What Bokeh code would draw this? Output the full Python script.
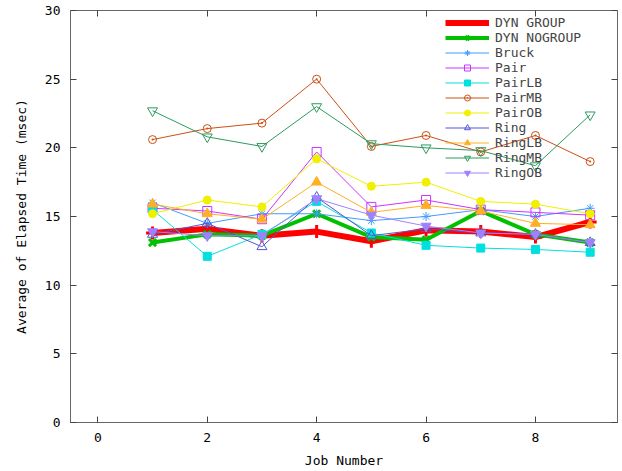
from bokeh.plotting import figure
from bokeh.models import FixedTicker, LinearAxis, Range1d, Legend, LegendItem
from bokeh.embed import file_html
from bokeh.resources import INLINE

jobs = [1, 2, 3, 4, 5, 6, 7, 8, 9]
x_ticks = [0, 2, 4, 6, 8]
y_ticks = [0, 5, 10, 15, 20, 25, 30]

dyn_group   = [13.8, 14.1, 13.6, 13.9, 13.2, 14.0, 13.9, 13.5, 14.6]
dyn_nogroup = [13.1, 13.7, 13.6, 15.2, 13.5, 13.3, 15.4, 13.7, 13.1]
bruck       = [16.0, 14.5, 15.2, 15.2, 14.7, 15.0, 15.5, 15.0, 15.6]
pair        = [15.6, 15.4, 14.8, 19.7, 15.7, 16.2, 15.5, 15.3, 15.1]
pair_lb     = [15.5, 12.1, 13.7, 16.1, 13.8, 12.9, 12.7, 12.6, 12.4]
pair_mb     = [20.6, 21.4, 21.8, 25.0, 20.1, 20.9, 19.7, 20.9, 19.0]
pair_ob     = [15.2, 16.2, 15.7, 19.2, 17.2, 17.5, 16.1, 15.9, 15.2]
ring        = [13.7, 14.5, 12.8, 16.4, 13.6, 14.1, 13.8, 13.7, 13.1]
ring_lb     = [15.9, 15.2, 14.8, 17.5, 15.3, 15.8, 15.4, 14.5, 14.4]
ring_mb     = [22.7, 20.8, 20.1, 23.0, 20.3, 20.0, 19.8, 18.7, 22.4]
ring_ob     = [13.9, 13.6, 13.6, 16.3, 15.1, 14.3, 13.8, 13.7, 13.1]

names = ["DYN GROUP", "DYN NOGROUP", "Bruck", "Pair", "PairLB", "PairMB",
         "PairOB", "Ring", "RingLB", "RingMB", "RingOB"]
values = [dyn_group, dyn_nogroup, bruck, pair, pair_lb, pair_mb,
          pair_ob, ring, ring_lb, ring_mb, ring_ob]

# style: color, marker, line width, filled, marker size
styles = [
    ("#ff0000", "cross", 6, True, 13),
    ("#00c000", "x", 4, True, 10),
    ("#3d9cff", "asterisk", 1, False, 9),
    ("#cc33ff", "square", 1, False, 9),
    ("#00e0e0", "square", 1, True, 8),
    ("#cc4f14", "circle_dot", 1, False, 8),
    ("#f0f000", "circle", 1, True, 8),
    ("#5555cc", "triangle", 1, False, 10),
    ("#ffb020", "triangle", 1, True, 10),
    ("#2e9a5e", "inverted_triangle", 1, False, 10),
    ("#9f80ff", "inverted_triangle", 1, True, 10),
]

FONT = "DejaVu Sans Mono"

p = figure(output_backend="svg", toolbar_location=None,
           frame_width=547, frame_height=412,
           x_range=Range1d(-0.5, 9.5), y_range=Range1d(0, 30),
           min_border_left=70, min_border_top=10, min_border_right=3,
           min_border_bottom=46)
p.xgrid.visible = False
p.ygrid.visible = False
p.outline_line_color = "#666666"
p.background_fill_color = "white"

for ax in [p.xaxis[0], p.yaxis[0]]:
    ax.axis_line_color = "#666666"
    ax.major_tick_line_color = "#444444"
    ax.major_tick_in = 6
    ax.major_tick_out = 0
    ax.minor_tick_line_color = None
    ax.major_label_text_font = FONT
    ax.major_label_text_font_size = "13px"
    ax.major_label_text_color = "black"
    ax.axis_label_text_font = FONT
    ax.axis_label_text_font_size = "13px"
    ax.axis_label_text_font_style = "normal"
    ax.axis_label_text_color = "black"
    ax.major_label_standoff = 10

p.xaxis.ticker = FixedTicker(ticks=x_ticks)
p.yaxis.ticker = FixedTicker(ticks=y_ticks)
p.xaxis.axis_label = "Job Number"
p.yaxis.axis_label = "Average of Elapsed Time (msec)"
p.xaxis.axis_label_standoff = 8
p.yaxis.axis_label_standoff = 13

top_ax = LinearAxis(ticker=FixedTicker(ticks=x_ticks), axis_line_color=None,
                    major_tick_in=6, major_tick_out=0, minor_tick_line_color=None,
                    major_label_text_font_size="1px", major_label_text_color=None,
                    major_label_standoff=0, major_tick_line_color="#444444")
right_ax = LinearAxis(ticker=FixedTicker(ticks=y_ticks), axis_line_color=None,
                      major_tick_in=6, major_tick_out=0, minor_tick_line_color=None,
                      major_label_text_font_size="1px", major_label_text_color=None,
                      major_label_standoff=0, major_tick_line_color="#444444")
p.add_layout(top_ax, "above")
p.add_layout(right_ax, "right")

items = []
for name, vals, (color, marker, lw, filled, size) in zip(names, values, styles):
    r1 = p.line(jobs, vals, line_color=color, line_width=lw)
    r2 = p.scatter(jobs, vals, marker=marker, size=size, line_color=color,
                   fill_color=color if filled else None,
                   line_width=(3 if lw > 1 else 1))
    items.append(LegendItem(label=name, renderers=[r1, r2]))

row_h = 15
pad = 2
leg_h = len(names) * row_h + 2 * pad
legend = Legend(items=items, location=(375, 412 - leg_h - 1), padding=pad, margin=0,
                spacing=0, label_height=row_h, glyph_height=row_h, glyph_width=44,
                label_standoff=6, label_text_font=FONT,
                label_text_font_size="13px", label_text_line_height=1.0,
                border_line_color=None, background_fill_alpha=0)
p.add_layout(legend)

open("out.html", "w").write(file_html(p, INLINE))
